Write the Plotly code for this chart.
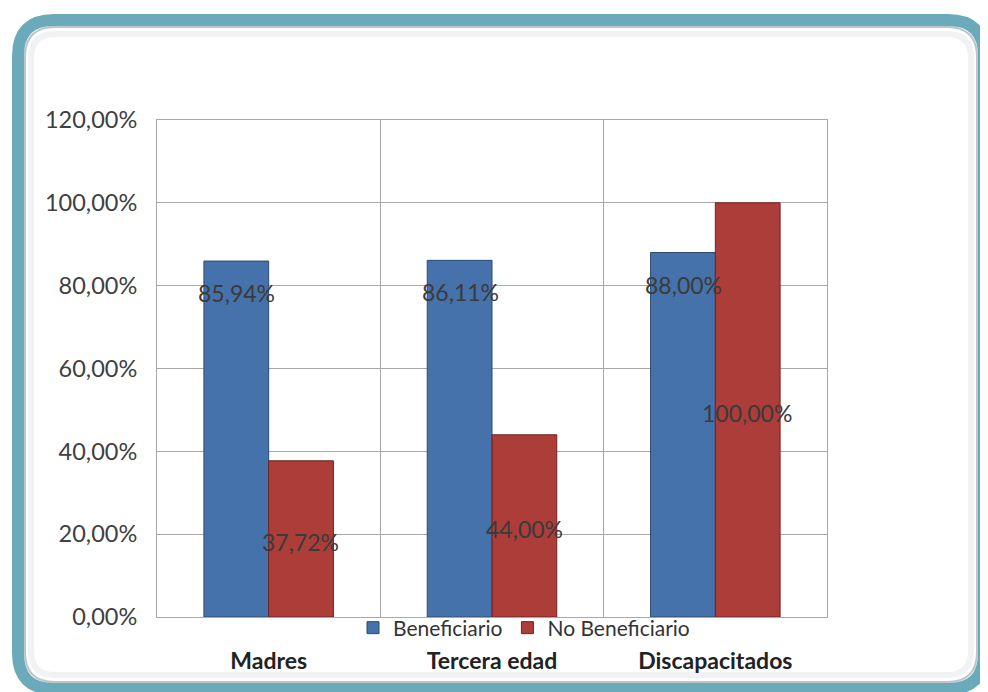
import plotly.graph_objects as go

categories = ["Madres", "Tercera edad", "Discapacitados"]
beneficiario = [0.8594, 0.8611, 0.88]
no_beneficiario = [0.3772, 0.44, 1.00]
series_names = ["Beneficiario", "No Beneficiario"]
y_ticks = [0, 0.2, 0.4, 0.6, 0.8, 1.0, 1.2]

OFF = 8  # page body margin
W, H = 988 - OFF, 692 - OFF
L, R, T, B = 157 - OFF, 827 - OFF, 120 - OFF, 617 - OFF
FONT = "Lato, Open Sans, sans-serif"

def px(x):
    return (x - OFF - L) / (R - L)

def py(y):
    return (B - (y - OFF)) / (B - T)

def rrect(x0, y0, x1, y1, r):
    pts = [
        f"M {px(x0 + r)},{py(y0)}",
        f"L {px(x1 - r)},{py(y0)}",
        f"Q {px(x1)},{py(y0)} {px(x1)},{py(y0 + r)}",
        f"L {px(x1)},{py(y1 - r)}",
        f"Q {px(x1)},{py(y1)} {px(x1 - r)},{py(y1)}",
        f"L {px(x0 + r)},{py(y1)}",
        f"Q {px(x0)},{py(y1)} {px(x0)},{py(y1 - r)}",
        f"L {px(x0)},{py(y0 + r)}",
        f"Q {px(x0)},{py(y0)} {px(x0 + r)},{py(y0)}",
        "Z",
    ]
    return " ".join(pts)

fig = go.Figure()
fig.add_trace(go.Bar(
    x=categories, y=beneficiario, name=series_names[0],
    marker=dict(color="#4672ab", line=dict(color="#2c4b72", width=1)),
))
fig.add_trace(go.Bar(
    x=categories, y=no_beneficiario, name=series_names[1],
    marker=dict(color="#ad3d39", line=dict(color="#6e2522", width=1)),
))

def fmt(v):
    return f"{v*100:.2f}%".replace(".", ",")

annotations = []
for c, v in zip(categories, beneficiario):
    annotations.append(dict(
        x=c, y=v, xref="x", yref="y", text=fmt(v),
        showarrow=False, xshift=-32, yshift=-32,
        font=dict(family=FONT, size=23, color="#3a3a3a"),
    ))
for c, v in zip(categories, no_beneficiario):
    annotations.append(dict(
        x=c, y=v / 2, xref="x", yref="y", text=fmt(v),
        showarrow=False, xshift=32, yshift=-3,
        font=dict(family=FONT, size=23, color="#3a3a3a"),
    ))

shapes = [
    dict(type="path", xref="paper", yref="paper", path=rrect(31, 34, 971, 675, 24),
         line=dict(color="rgba(120,130,140,0.10)", width=6), fillcolor="rgba(0,0,0,0)", layer="above"),
    dict(type="path", xref="paper", yref="paper", path=rrect(18, 20, 984, 689, 36),
         line=dict(color="#6aaabb", width=12), fillcolor="rgba(0,0,0,0)", layer="above"),
    dict(type="path", xref="paper", yref="paper", path=rrect(25, 27, 977, 682, 30),
         line=dict(color="rgba(90,110,120,0.40)", width=2), fillcolor="rgba(0,0,0,0)", layer="above"),
]

fig.update_layout(
    width=W, height=H,
    margin=dict(l=L, r=W - R, t=T, b=H - B, autoexpand=False),
    paper_bgcolor="white", plot_bgcolor="white",
    separators=",.",
    barmode="group", bargap=0.42, bargroupgap=0,
    font=dict(family=FONT, color="#333333"),
    showlegend=True,
    legend=dict(orientation="h", x=px(524), xanchor="center", y=py(628), yanchor="middle",
                bgcolor="rgba(255,255,255,0)", font=dict(size=21, color="#333333"),
                itemwidth=30, tracegroupgap=0),
    annotations=annotations,
    shapes=shapes,
)
fig.update_xaxes(
    type="category", tickson="boundaries", showgrid=True, gridcolor="#a8a8a8", gridwidth=1,
    showline=True, linecolor="#a8a8a8", mirror=True, ticks="",
    tickfont=dict(size=23, color="#222222", family=FONT, weight="bold"),
    ticklabelstandoff=23,
)
fig.update_yaxes(
    range=[0, 1.2], tickvals=y_ticks, tickformat=".2%", showgrid=True, gridcolor="#a8a8a8",
    showline=True, linecolor="#a8a8a8", mirror=True, zeroline=False, ticks="",
    tickfont=dict(size=23.5, color="#404040"), ticklabelstandoff=14,
)

fig.write_html("out.html")
